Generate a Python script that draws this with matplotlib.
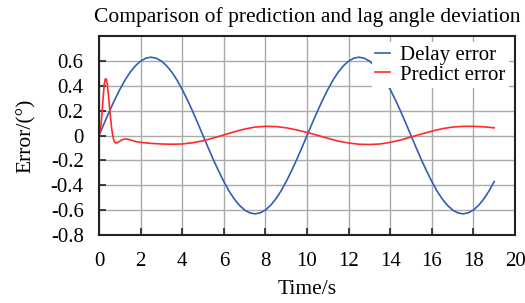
import matplotlib
matplotlib.use("Agg")
import matplotlib.pyplot as plt
from matplotlib.ticker import FuncFormatter

plt.rcParams['font.family'] = ['Liberation Serif', 'DejaVu Serif']
plt.rcParams['axes.unicode_minus'] = True

# Delay error (blue), read at 0.25 s steps
t_delay = [0.0, 0.25, 0.5, 0.75, 1.0, 1.25, 1.5, 1.75, 2.0, 2.25,
           2.5, 2.75, 3.0, 3.25, 3.5, 3.75, 4.0, 4.25, 4.5, 4.75,
           5.0, 5.25, 5.5, 5.75, 6.0, 6.25, 6.5, 6.75, 7.0, 7.25,
           7.5, 7.75, 8.0, 8.25, 8.5, 8.75, 9.0, 9.25, 9.5, 9.75,
           10.0, 10.25, 10.5, 10.75, 11.0, 11.25, 11.5, 11.75, 12.0, 12.25,
           12.5, 12.75, 13.0, 13.25, 13.5, 13.75, 14.0, 14.25, 14.5, 14.75,
           15.0, 15.25, 15.5, 15.75, 16.0, 16.25, 16.5, 16.75, 17.0, 17.25,
           17.5, 17.75, 18.0, 18.25, 18.5, 18.75, 19.0]
delay_err = [0.0, 0.099, 0.195, 0.286, 0.37, 0.446, 0.51, 0.561, 0.599, 0.622,
             0.63, 0.622, 0.599, 0.561, 0.51, 0.446, 0.37, 0.286, 0.195, 0.099,
             0.0, -0.099, -0.195, -0.286, -0.37, -0.446, -0.51, -0.561, -0.599, -0.622,
             -0.63, -0.622, -0.599, -0.561, -0.51, -0.446, -0.37, -0.286, -0.195, -0.099,
             0.0, 0.099, 0.195, 0.286, 0.37, 0.446, 0.51, 0.561, 0.599, 0.622,
             0.63, 0.622, 0.599, 0.561, 0.51, 0.446, 0.37, 0.286, 0.195, 0.099,
             0.0, -0.099, -0.195, -0.286, -0.37, -0.446, -0.51, -0.561, -0.599, -0.622,
             -0.63, -0.622, -0.599, -0.561, -0.51, -0.446, -0.37]

# Predict error (red)
t_pred = [0.0, 0.05, 0.1, 0.15, 0.2, 0.25, 0.3, 0.35, 0.4, 0.45,
          0.5, 0.55, 0.6, 0.65, 0.7, 0.75, 0.8, 0.85, 0.9, 1.0,
          1.1, 1.2, 1.3, 1.4, 1.6, 1.8, 2.0, 2.5, 3.0, 3.5,
          4.0, 4.5, 5.0, 5.5, 6.0, 6.5, 7.0, 7.5, 8.0, 8.5,
          9.0, 9.5, 10.0, 10.5, 11.0, 11.5, 12.0, 12.5, 13.0, 13.5,
          14.0, 14.5, 15.0, 15.5, 16.0, 16.5, 17.0, 17.5, 18.0, 18.5,
          19.0]
pred_err = [0.0, 0.03, 0.09, 0.19, 0.31, 0.41, 0.455, 0.455, 0.41, 0.33,
            0.24, 0.15, 0.07, 0.01, -0.03, -0.052, -0.06, -0.06, -0.056, -0.045,
            -0.035, -0.03, -0.028, -0.03, -0.04, -0.05, -0.055, -0.063, -0.068, -0.07,
            -0.068, -0.058, -0.042, -0.02, 0.005, 0.03, 0.052, 0.068, 0.074, 0.072,
            0.062, 0.045, 0.025, 0.002, -0.022, -0.045, -0.06, -0.07, -0.072, -0.068,
            -0.055, -0.036, -0.012, 0.012, 0.035, 0.055, 0.068, 0.074, 0.074, 0.07,
            0.062]

x_ticks = list(range(0, 21, 2))
y_ticks = [-0.8, -0.6, -0.4, -0.2, 0.0, 0.2, 0.4, 0.6]

fig = plt.figure(figsize=(5.25, 3.03), dpi=100)
ax = fig.add_axes([0.1886, 0.2244, 0.7924, 0.6566])

ax.plot(t_delay, delay_err, color='#2f5fb3', lw=1.2, label='Delay error')
ax.plot(t_pred, pred_err, color='#ff2a2a', lw=1.2, label='Predict error')

ax.set_xlim(0, 20)
ax.set_ylim(-0.8, 0.8)
ax.set_xticks(x_ticks)
ax.set_yticks(y_ticks)
ax.yaxis.set_major_formatter(FuncFormatter(lambda v, p: '0' if abs(v) < 1e-9 else f'{v:.1f}'))
ax.tick_params(direction='in', length=5, width=1.2, labelsize=15, color='#222222')
ax.tick_params(axis='y', pad=11)
ax.tick_params(axis='x', pad=12)
ax.grid(True, color='#aaaaaa', lw=1.0)
ax.set_axisbelow(True)
for s in ax.spines.values():
    s.set_linewidth(1.5)
    s.set_color('#222222')

ax.set_title('Comparison of prediction and lag angle deviation', fontsize=15.5, pad=10)
ax.set_xlabel('Time/s', fontsize=15.5, labelpad=7)
ax.set_ylabel('Error/(°)', fontsize=15.5, labelpad=11)

leg = ax.legend(loc='upper right', fontsize=15, frameon=True, fancybox=False,
                handlelength=0.7, handletextpad=0.5, borderpad=0.15,
                labelspacing=0.0, borderaxespad=0.3)
leg.get_frame().set_edgecolor('none')
leg.get_frame().set_facecolor('white')
leg.get_frame().set_alpha(1.0)

fig.savefig('out.png', dpi=100)
